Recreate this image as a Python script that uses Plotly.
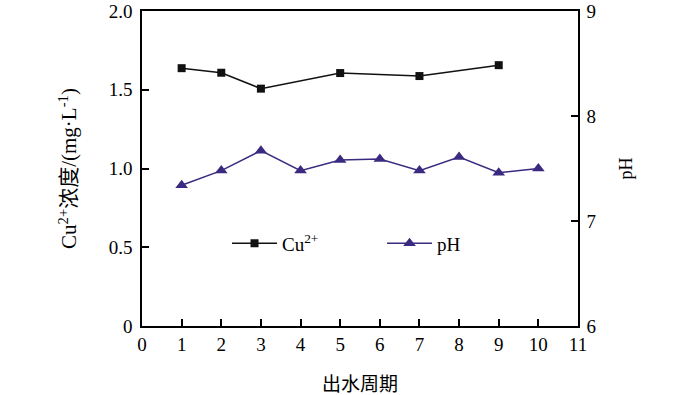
import plotly.graph_objects as go

cu_x = [1, 2, 3, 5, 7, 9]
cu_y = [1.637, 1.608, 1.507, 1.606, 1.587, 1.656]
ph_x = [1, 2, 3, 4, 5, 6, 7, 8, 9, 10]
ph_y = [7.34, 7.48, 7.67, 7.48, 7.58, 7.59, 7.48, 7.61, 7.46, 7.50]

x_ticks = list(range(0, 12))
left_ticks = [0, 0.5, 1.0, 1.5, 2.0]
left_ticktext = ["0", "0.5", "1.0", "1.5", "2.0"]
right_ticks = [6, 7, 8, 9]

FONT = "Liberation Serif, Times New Roman, Noto Sans CJK SC"
PURPLE = "#3b2a80"

fig = go.Figure()
fig.add_trace(go.Scatter(x=cu_x, y=cu_y, name="Cu<sup>2+</sup>", mode="lines+markers",
                         line=dict(color="#111111", width=1.5),
                         marker=dict(symbol="square", size=8, color="#111111")))
fig.add_trace(go.Scatter(x=ph_x, y=ph_y, name="pH", mode="lines+markers", yaxis="y2",
                         line=dict(color=PURPLE, width=1.5),
                         marker=dict(symbol="triangle-up", size=11, color=PURPLE)))

axis_common = dict(showline=True, linecolor="black", linewidth=1.5, ticks="inside",
                   ticklen=7, tickwidth=1.5, tickcolor="black", showgrid=False,
                   zeroline=False, ticklabeloverflow="allow", automargin=False,
                   tickfont=dict(family=FONT, size=19, color="black"))

fig.update_layout(
    width=700, height=395,
    margin=dict(l=142, r=122, t=11, b=69),
    paper_bgcolor="white", plot_bgcolor="white",
    font=dict(family=FONT, size=18, color="black"),
    showlegend=True,
    legend=dict(orientation="h", x=0.195, y=0.262, xanchor="left", yanchor="middle",
                bgcolor="rgba(0,0,0,0)", entrywidth=95, entrywidthmode="pixels",
                itemwidth=45,
                font=dict(family=FONT, size=19, color="black")),
    xaxis=dict(range=[0, 11], tickvals=x_ticks, mirror=True,
               title=dict(text="出水周期", standoff=26, font=dict(family=FONT, size=19)),
               **axis_common),
    yaxis=dict(range=[0, 2.0], tickvals=left_ticks, ticktext=left_ticktext,
               ticklabelstandoff=4,
               title=dict(text="Cu<sup>2+</sup>浓度/(mg·L<sup>-1</sup>)", standoff=26,
                          font=dict(family=FONT, size=21)),
               **axis_common),
    yaxis2=dict(range=[6, 9], tickvals=right_ticks, overlaying="y", side="right",
                ticklabelstandoff=3,
                title=dict(text="pH", standoff=24, font=dict(family=FONT, size=18)),
                **axis_common),
)

fig.write_html("out.html", config={"displayModeBar": False},
               post_script="document.body.style.margin='0';")
